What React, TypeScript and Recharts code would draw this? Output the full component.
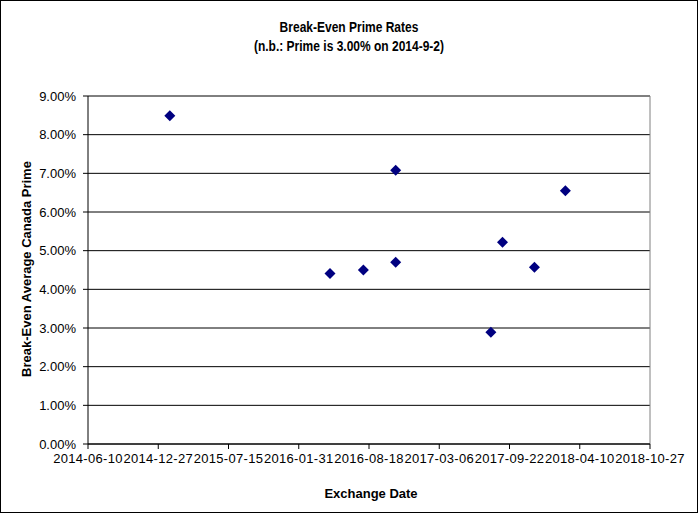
import { ScatterChart, Scatter, XAxis, YAxis, CartesianGrid, ReferenceLine } from "recharts";

const pointDates = ["2015-01-29", "2016-04-29", "2016-08-02", "2016-11-02", "2016-11-02", "2017-07-31", "2017-09-02", "2017-12-02", "2018-02-28"];
const pointRates = [8.49, 4.41, 4.50, 7.08, 4.70, 2.89, 5.22, 4.57, 6.55];
const dateTicks = ["2014-06-10", "2014-12-27", "2015-07-15", "2016-01-31", "2016-08-18", "2017-03-06", "2017-09-22", "2018-04-10", "2018-10-27"];
const rateTicks = [0, 1, 2, 3, 4, 5, 6, 7, 8, 9];

const toTs = (d: string) => Date.parse(d + "T00:00:00Z");
const fmtDate = (v: number) => new Date(v).toISOString().slice(0, 10);

const data = pointDates.map((d, i) => ({ x: toTs(d), y: pointRates[i] }));
const xTicks = dateTicks.map(toTs);

const font = "'Liberation Sans', Arial, sans-serif";

function Diamond(props: any) {
  const { cx, cy } = props;
  const r = 5.5;
  return (
    <polygon
      points={`${cx},${cy - r} ${cx + r},${cy} ${cx},${cy + r} ${cx - r},${cy}`}
      fill="#000080"
    />
  );
}

export default function App() {
  return (
    <div style={{ position: "absolute", left: 0, top: 0, width: 698, height: 513, background: "#fff", fontFamily: font }}>
      <style>{`body{margin:0}`}</style>
      <ScatterChart width={698} height={513} margin={{ top: 96, right: 48, bottom: 9, left: 8 }}>
        <CartesianGrid horizontal vertical={false} stroke="#000" strokeOpacity={1} />
        <XAxis
          type="number"
          dataKey="x"
          domain={[xTicks[0], xTicks[xTicks.length - 1]]}
          ticks={xTicks}
          interval={0}
          tickFormatter={fmtDate}
          height={60}
          stroke="#000"
          tickSize={5}
          tickMargin={5}
          tick={{ fill: "#000", fontSize: 13, fontFamily: font, letterSpacing: 0.3 }}
        />
        <YAxis
          type="number"
          dataKey="y"
          domain={[0, 9]}
          ticks={rateTicks}
          interval={0}
          tickFormatter={(v: number) => v.toFixed(2) + "%"}
          width={80}
          stroke="#000"
          tickSize={5}
          tickMargin={7}
          tick={{ fill: "#000", fontSize: 13, fontFamily: font }}
        />
        <ReferenceLine y={9} stroke="#808080" />
        <ReferenceLine x={xTicks[xTicks.length - 1]} stroke="#808080" />
        <Scatter data={data} shape={Diamond} isAnimationActive={false} />
      </ScatterChart>
      <div style={{ position: "absolute", left: 0, top: 17, width: 698, textAlign: "center", fontSize: 15, fontWeight: 700, lineHeight: "19px", transform: "scaleX(0.8)" }}>
        Break-Even Prime Rates
        <br />
        (n.b.: Prime is 3.00% on 2014-9-2)
      </div>
      <div style={{ position: "absolute", left: 271, top: 486, width: 200, textAlign: "center", fontSize: 13, fontWeight: 700, lineHeight: "16px" }}>
        Exchange Date
      </div>
      <div style={{ position: "absolute", left: 27 - 150, top: 269 - 8, width: 300, textAlign: "center", fontSize: 13, fontWeight: 700, lineHeight: "16px", transform: "rotate(-90deg)" }}>
        Break-Even Average Canada Prime
      </div>
      <div style={{ position: "absolute", left: 0, top: 0, width: 698, height: 513, boxSizing: "border-box", border: "1px solid #000", pointerEvents: "none" }} />
    </div>
  );
}
